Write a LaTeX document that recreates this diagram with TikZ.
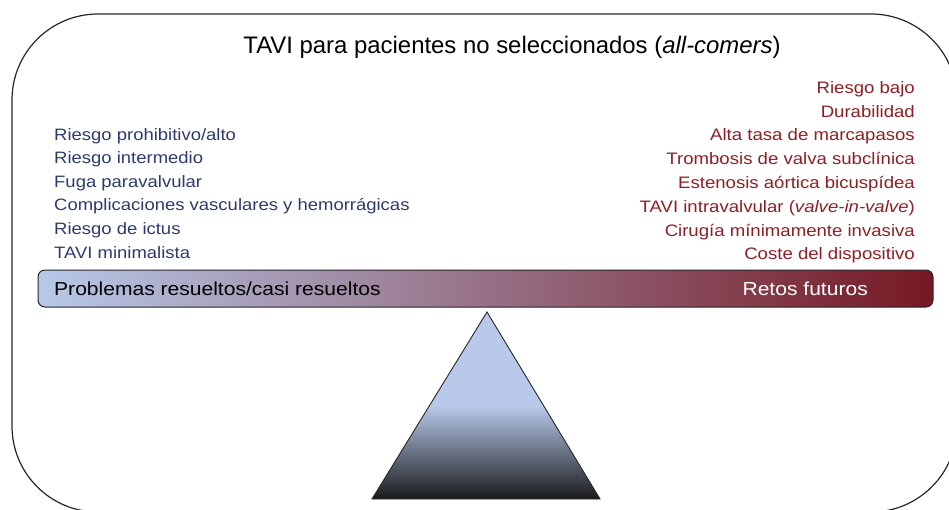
\documentclass[tikz,border=0pt]{standalone}
\usepackage{fontspec}
\setmainfont{Liberation Sans}
\newfontfamily\widesans[FakeStretch=1.12]{Liberation Sans}
\definecolor{txtblue}{HTML}{2E3A6E}
\definecolor{txtred}{HTML}{8E1F26}
\definecolor{barl}{HTML}{B7C9E9}
\definecolor{barr}{HTML}{761823}
\definecolor{trilight}{HTML}{B8C9EA}
\definecolor{tridark}{HTML}{1A1A1C}
\begin{document}
\begin{tikzpicture}[x=1pt,y=-1pt,
  leftitem/.style={anchor=base west, text=txtblue, font=\widesans\fontsize{16.5}{20}\selectfont, inner sep=0pt},
  rightitem/.style={anchor=base east, text=txtred, font=\widesans\fontsize{16.6}{20}\selectfont, inner sep=0pt},
  bartext/.style={font=\widesans\fontsize{18.8}{22}\selectfont, inner sep=0pt},
  barbox/.style={draw=black!85, line width=1pt, rounded corners=7pt, minimum width=895pt, minimum height=37pt, inner sep=0pt, left color=barl, right color=barr}]
\useasboundingbox (0,0) rectangle (949,509);
\begin{scope}
\clip (0,0) rectangle (949,509);
\draw[line width=1.2pt, draw=black!85, rounded corners=86pt] (12,14) rectangle (957,512);
\end{scope}
\node[anchor=base, font=\fontsize{23.9}{28}\selectfont, inner sep=0pt] (title) at (512,53) {TAVI para pacientes no seleccionados (\textit{all-comers})};
\foreach \t [count=\i] in {Riesgo prohibitivo/alto, Riesgo intermedio, Fuga paravalvular, Complicaciones vasculares y hemorrágicas, Riesgo de ictus, TAVI minimalista}
  \node[leftitem] (l\i) at (54,{140+23.65*(\i-1)}) {\t};
\foreach \t [count=\i] in {Riesgo bajo, Durabilidad, Alta tasa de marcapasos, Trombosis de valva subclínica, Estenosis aórtica bicuspídea, {TAVI intravalvular (\textit{valve-in-valve})}, Cirugía mínimamente invasiva, Coste del dispositivo}
  \node[rightitem] (r\i) at (915,{93.3+23.8*(\i-1)}) {\t};
\node[barbox] (bar) at (485.5,288.5) {};
\node[bartext, anchor=base west] (solved) at (54,295) {Problemas resueltos/casi resueltos};
\node[bartext, anchor=base east, text=white] (future) at (868,295) {Retos futuros};
\shadedraw[draw=black!85, line width=0.9pt, top color=trilight, bottom color=tridark, middle color=trilight] (487,312) -- (600,499) -- (372,499) -- cycle;
\end{tikzpicture}
\end{document}
